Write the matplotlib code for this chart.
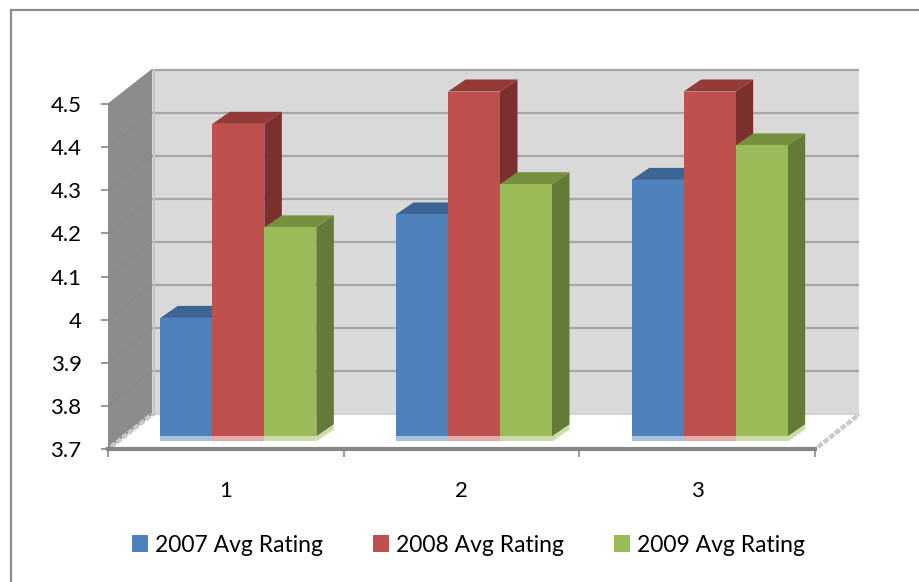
import matplotlib
matplotlib.use("Agg")
import matplotlib.pyplot as plt
from matplotlib.lines import Line2D
from matplotlib.patches import Patch, Polygon

categories = [1, 2, 3]
value_ticks = [3.7, 3.8, 3.9, 4.0, 4.1, 4.2, 4.3, 4.4, 4.5]
value_labels = ["3.7", "3.8", "3.9", "4", "4.1", "4.2", "4.3", "4.4", "4.5"]
series_names = ["2007 Avg Rating", "2008 Avg Rating", "2009 Avg Rating"]
rating_2007 = [3.975, 4.215, 4.295]
rating_2008 = [4.425, 4.50, 4.50]
rating_2009 = [4.185, 4.285, 4.375]

face_colors = ["#4F81BD", "#C0504D", "#9BBB59"]
top_colors = ["#3D6593", "#943B39", "#769040"]
side_colors = ["#385D8A", "#7C302E", "#647A37"]
glow_colors = ["#A9C1E0", "#E3ABA9", "#CDDDA9"]

W, H = 919, 582
plt.rcParams["font.family"] = ["Lato", "DejaVu Sans"]
fig = plt.figure(figsize=(W / 100, H / 100), dpi=100, facecolor="white")

# The front plane of the box is the axes; depth is an oblique shift in data units.
left, right, top, bottom = 108, 815, 104, 449
ax = fig.add_axes([left / W, 1 - bottom / H, (right - left) / W, (bottom - top) / H])
ax.set_xlim(0.5, 3.5)
ax.set_ylim(3.7, 4.5)
ax.patch.set_visible(False)

px_x = 3.0 / (right - left)
px_y = 0.8 / (bottom - top)
wall_dx, wall_dy = 44 * px_x, 34.5 * px_y
bar_front_dx, bar_front_dy = 12.5 * px_x, 12.5 * px_y
bar_dx, bar_dy = 17.5 * px_x, 12 * px_y
bar_width = 52 * px_x


def poly(points, color, z=1.0, **kw):
    ax.add_patch(Polygon(points, closed=True, facecolor=color, edgecolor="none",
                         clip_on=False, zorder=z, **kw))


x0, x1 = 0.5, 3.5
y0, y1 = 3.7, 4.5

# Box walls and floor
poly([(x0 + wall_dx, y0 + wall_dy), (x1 + wall_dx, y0 + wall_dy),
      (x1 + wall_dx, y1 + wall_dy), (x0 + wall_dx, y1 + wall_dy)], "#D9D9D9", 1.0)
poly([(x0, y0), (x0 + wall_dx, y0 + wall_dy), (x0 + wall_dx, y1 + wall_dy), (x0, y1)],
     "#8C8C8C", 1.2)
poly([(x0, y0), (x1, y0), (x1 + wall_dx, y0 + wall_dy), (x0 + wall_dx, y0 + wall_dy)],
     "white", 1.1)

for t in value_ticks:
    ax.plot([x0 + wall_dx, x1 + wall_dx], [t + wall_dy] * 2, color="#A6A6A6", lw=1.6,
            clip_on=False, zorder=1.05, solid_capstyle="butt")
    ax.plot([x0, x0 + wall_dx], [t, t + wall_dy], color="#868686", lw=0.6,
            clip_on=False, zorder=1.25)

# Speckled floor edges
for xs in (x0, x1):
    ax.plot([xs + 3 * px_x, xs + wall_dx], [y0 + 2 * px_y, y0 + wall_dy], color="#CACACA",
            lw=3.2, clip_on=False, zorder=1.3, linestyle=(0, (1.3, 0.35)))
ax.plot([x0 + wall_dx + 1.5 * px_x] * 2, [y0 + wall_dy, y1 + wall_dy], color="#C4C4C4", lw=1.4,
        clip_on=False, zorder=1.3)

# Bars, back to front within each group
all_series = [rating_2007, rating_2008, rating_2009]
for g, cat in enumerate(categories):
    for s, values in enumerate(all_series):
        v = values[g]
        xl = cat + (s - 1.5) * bar_width + bar_front_dx
        xr = xl + bar_width
        yb = y0 + bar_front_dy
        yt = v + bar_front_dy
        z = 2 + g + 0.1 * s
        poly([(xr, yb), (xr + bar_dx, yb + bar_dy), (xr + bar_dx, yt + bar_dy), (xr, yt)],
             side_colors[s], z)
        poly([(xl, yt), (xr, yt), (xr + bar_dx, yt + bar_dy), (xl + bar_dx, yt + bar_dy)],
             top_colors[s], z)
        poly([(xl, yb), (xr, yb), (xr, yt), (xl, yt)], face_colors[s], z + 0.01)
        # Pale reflection along the foot of the bar
        poly([(xl, yb - 5 * px_y), (xr, yb - 5 * px_y), (xr, yb), (xl, yb)],
             glow_colors[s], z + 0.01)
        if s == 2:
            poly([(xr, yb - 5 * px_y), (xr + bar_dx, yb + bar_dy - 5 * px_y),
                  (xr + bar_dx, yb + bar_dy), (xr, yb)], glow_colors[s], z + 0.01)

# Axes furniture
for name in ("left", "right", "top"):
    ax.spines[name].set_visible(False)
ax.spines["bottom"].set_color("#868686")
ax.spines["bottom"].set_linewidth(3)
ax.spines["bottom"].set_zorder(10)

ax.set_yticks(value_ticks, value_labels)
ax.tick_params(axis="y", length=5, width=1.2, color="#868686", pad=14, labelsize=16,
               labelcolor="black")
ax.set_xticks([0.5, 1.5, 2.5, 3.5], ["", "", "", ""])
ax.set_xticks(categories, [str(c) for c in categories], minor=True)
ax.tick_params(axis="x", which="major", length=6, width=1.2, color="#868686")
ax.tick_params(axis="x", which="minor", length=0, pad=23, labelsize=16, labelcolor="black")

handles = [Patch(facecolor=c, edgecolor="none") for c in face_colors]
ax.legend(handles, series_names, loc="center", bbox_to_anchor=(468.5 / W, 1 - 545 / H),
          bbox_transform=fig.transFigure, ncol=3, frameon=False, fontsize=16.5,
          handlelength=0.7, handleheight=0.7, handletextpad=0.3, columnspacing=2.18)

# Chart frame: only the top and left edges fall inside the canvas
frame_color = "#8C8C8C"
fig.add_artist(Line2D([10.5 / W, 1], [1 - 9.5 / H, 1 - 9.5 / H], color=frame_color, lw=1.6,
                      transform=fig.transFigure))
fig.add_artist(Line2D([10.5 / W, 10.5 / W], [0, 1 - 9.5 / H], color=frame_color, lw=1.6,
                      transform=fig.transFigure))

fig.savefig("out.png", dpi=100)
